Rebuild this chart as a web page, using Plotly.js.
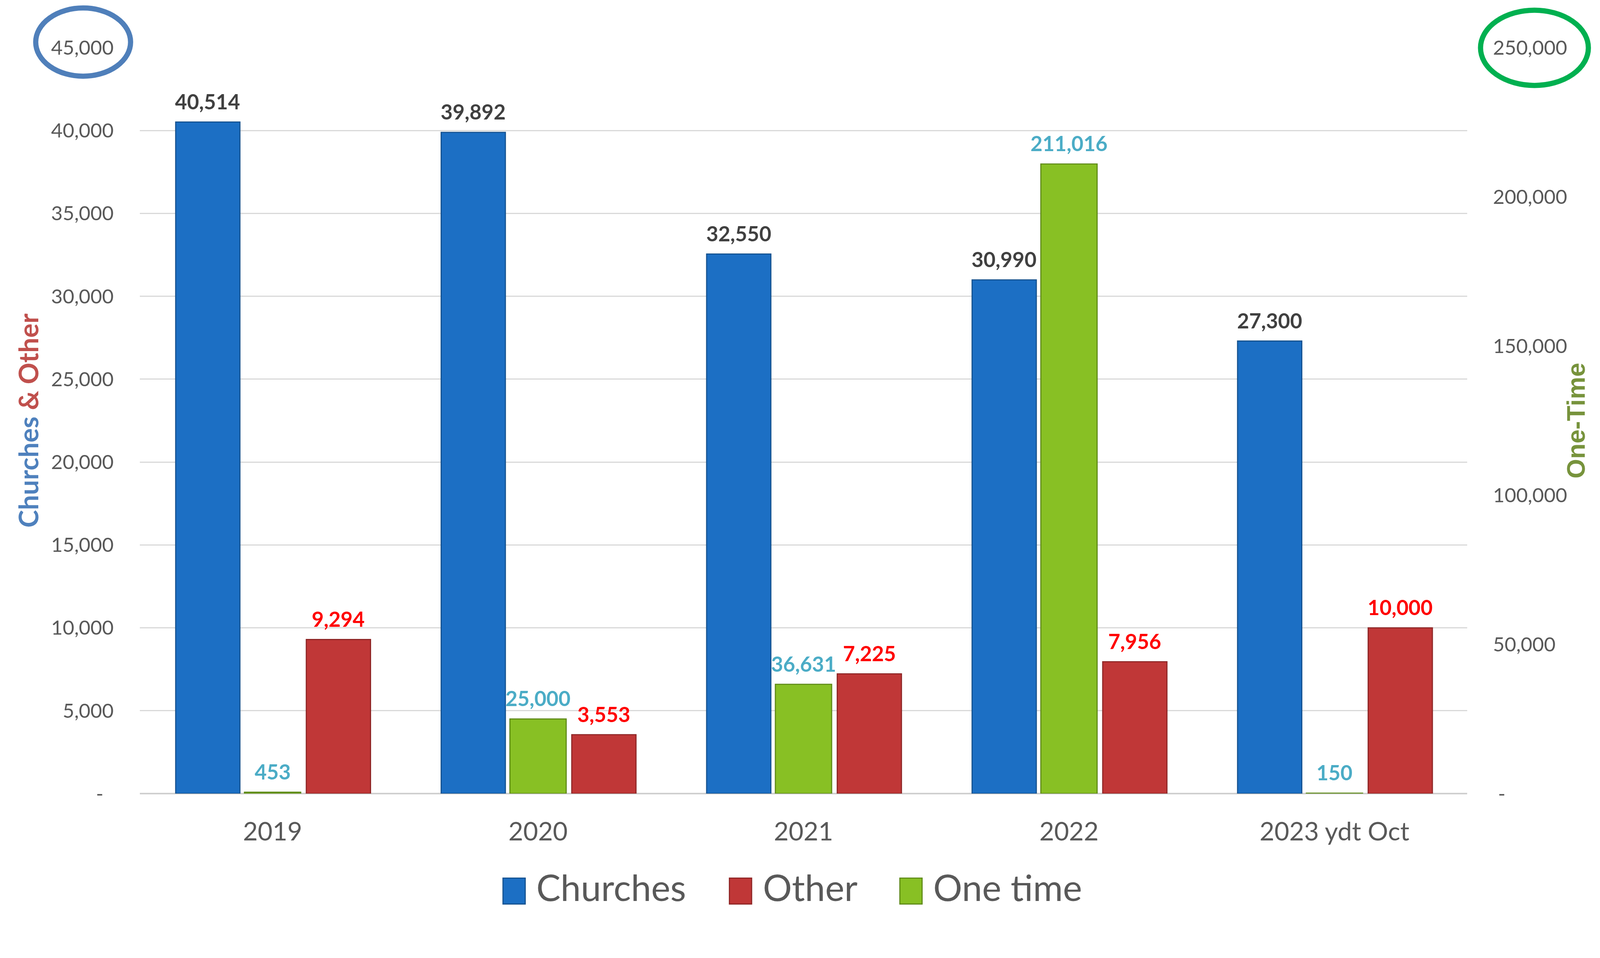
<!DOCTYPE html>
<html><head><meta charset="utf-8">
<script src="https://cdn.plot.ly/plotly-3.0.1.min.js"></script>
<style>html,body{margin:0;padding:0;background:#fff;overflow:hidden}</style>
</head><body><div id="chart"></div>
<script>
// ---- data ----
const categories = ['2019', '2020', '2021', '2022', '2023 ydt Oct'];
const churches = [40514, 39892, 32550, 30990, 27300];
const other = [9294, 3553, 7225, 7956, 10000];
const oneTime = [453, 25000, 36631, 211016, 150];
const seriesNames = ['Churches', 'Other', 'One time'];
const leftTickVals = [0, 5000, 10000, 15000, 20000, 25000, 30000, 35000, 40000, 45000];
const leftTickText = ['-\u00a0\u00a0', '5,000', '10,000', '15,000', '20,000', '25,000', '30,000', '35,000', '40,000', '45,000'];
const rightTickVals = [0, 50000, 100000, 150000, 200000, 250000];
const rightTickText = ['\u00a0-', '50,000', '100,000', '150,000', '200,000', '250,000'];

// ---- layout geometry (design pixels, scaled to the viewport) ----
const W = 4317, H = 2453;
const s = Math.min(window.innerWidth / W, window.innerHeight / H) || 1;
const S = v => v * s;
const SI = v => Math.round(v * s);
const el = document.getElementById('chart');
el.style.width = S(W) + 'px';
el.style.height = S(H) + 'px';

const M = {l: 377, r: 358, t: 129, b: 311};
const PW = W - M.l - M.r, PH = H - M.t - M.b;
const px = v => (v - M.l) / PW;
const py = v => (H - M.b - v) / PH;

const colors = {churches: '#1c6fc4', other: '#c03737', oneTime: '#88c024'};
const lines = {churches: '#15528f', other: '#8e2626', oneTime: '#5f8a18'};
const slot = {churches: {off: -0.365, w: 0.242}, other: {off: 0.127, w: 0.242}, oneTime: {off: -0.106, w: 0.212}};

const traces = [
  {type: 'bar', name: seriesNames[0], x: categories, y: churches, yaxis: 'y',
   offset: slot.churches.off, width: slot.churches.w,
   marker: {color: colors.churches, line: {color: lines.churches, width: S(3)}}, showlegend: false},
  {type: 'bar', name: seriesNames[1], x: categories, y: other, yaxis: 'y',
   offset: slot.other.off, width: slot.other.w,
   marker: {color: colors.other, line: {color: lines.other, width: S(3)}}, showlegend: false},
  {type: 'bar', name: seriesNames[2], x: categories, y: oneTime, yaxis: 'y2',
   offset: slot.oneTime.off, width: slot.oneTime.w,
   marker: {color: colors.oneTime, line: {color: lines.oneTime, width: S(3)}}, showlegend: false}
];

const fmt = v => v.toLocaleString('en-US');
const labelFont = (c) => ({family: 'Lato', size: S(56), color: c, weight: 'bold'});
const annotations = [];
function addLabels(vals, key, yref, color) {
  const sl = slot[key];
  vals.forEach((v, i) => {
    annotations.push({x: i + sl.off + sl.w / 2, y: v, xref: 'x', yref: yref, text: fmt(v),
      showarrow: false, yanchor: 'middle', xanchor: 'center', yshift: S(56), font: labelFont(color)});
  });
}
addLabels(churches, 'churches', 'y', '#404040');
addLabels(other, 'other', 'y', '#ff0000');
addLabels(oneTime, 'oneTime', 'y2', '#4bacc6');

// custom legend (large swatches as in the reference)
const legendItems = [
  {name: seriesNames[0], c: colors.churches, l: lines.churches, sx: 1357, tx: 1445},
  {name: seriesNames[1], c: colors.other, l: lines.other, sx: 1968, tx: 2056},
  {name: seriesNames[2], c: colors.oneTime, l: lines.oneTime, sx: 2428, tx: 2516}
];
const shapes = [
  {type: 'circle', xref: 'paper', yref: 'paper', x0: px(96), x1: px(352), y0: py(206), y1: py(22),
   line: {color: '#4f7fba', width: S(14)}},
  {type: 'circle', xref: 'paper', yref: 'paper', x0: px(3995), x1: px(4286), y0: py(231), y1: py(28),
   line: {color: '#00b050', width: S(14)}}
];
legendItems.forEach(it => {
  shapes.push({type: 'rect', xref: 'paper', yref: 'paper', x0: px(it.sx), x1: px(it.sx + 60),
    y0: py(2440), y1: py(2370), fillcolor: it.c, line: {color: it.l, width: S(3)}});
  annotations.push({xref: 'paper', yref: 'paper', x: px(it.tx), y: py(2394), xanchor: 'left', yanchor: 'middle',
    text: it.name, showarrow: false, font: {family: 'Lato', size: S(98), color: '#595959'}});
});

const tickFont = {family: 'Lato', size: S(54), color: '#595959'};
const layout = {
  width: S(W), height: S(H),
  margin: {l: S(M.l), r: S(M.r), t: S(M.t), b: S(M.b), pad: 0},
  paper_bgcolor: '#ffffff', plot_bgcolor: '#ffffff',
  barmode: 'overlay',
  showlegend: false,
  xaxis: {type: 'category', range: [-0.5, 4.5], showgrid: false, zeroline: false, showline: false, ticks: '',
    tickfont: {family: 'Lato', size: S(69), color: '#595959'}, ticklabelstandoff: SI(57), automargin: false},
  yaxis: {range: [0, 45000], tickvals: leftTickVals, ticktext: leftTickText, showgrid: true,
    gridcolor: '#d9d9d9', gridwidth: S(3), zeroline: true, zerolinecolor: '#cfcfcf', zerolinewidth: S(4),
    ticks: '', ticklabelstandoff: SI(70), tickfont: tickFont, automargin: false,
    title: {text: '<span style="color:#4f81bd">Churches</span> <span style="color:#c0504d">&amp; Other</span>',
      font: {family: 'Lato', size: S(72), weight: 'bold'}, standoff: S(10)}},
  yaxis2: {overlaying: 'y', side: 'right', range: [0, 250000], tickvals: rightTickVals, ticktext: rightTickText,
    showgrid: false, zeroline: false, ticks: '', ticklabelstandoff: SI(69), automargin: false,
    tickfont: tickFont,
    title: {text: 'One-Time', font: {family: 'Liberation Sans', size: S(68), color: '#77933c', weight: 'bold'}, standoff: 0}},
  shapes: shapes,
  annotations: annotations
};

Plotly.newPlot('chart', traces, layout, {displayModeBar: false, staticPlot: true});
</script>
</body></html>
